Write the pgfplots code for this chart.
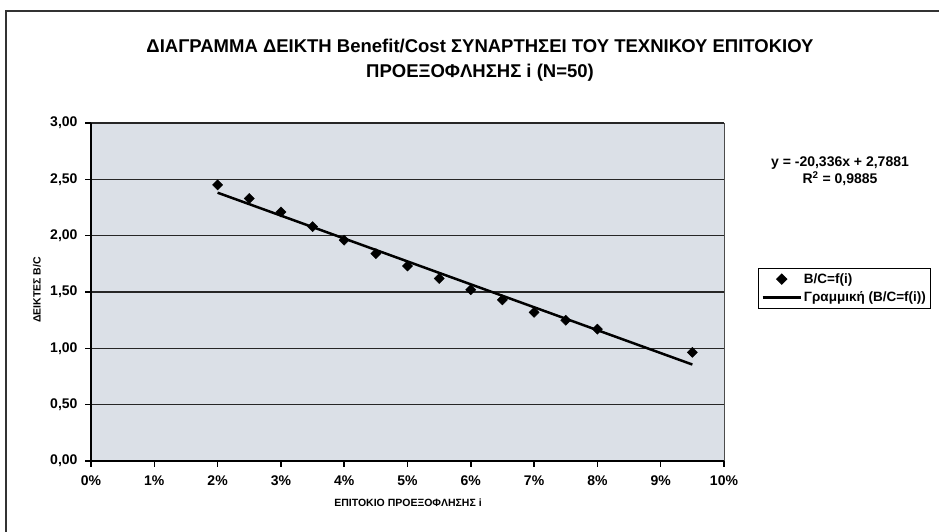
\documentclass[border=0pt]{standalone}
\usepackage{fontspec}
\setmainfont{Liberation Sans}
\usepackage{pgfplots}
\pgfplotsset{compat=1.18}
\definecolor{plotbg}{RGB}{219,224,231}
\begin{document}
\begin{tikzpicture}[x=1pt,y=1pt]
\useasboundingbox (0,0) rectangle (939,532);
\draw[black!80, line width=1.5pt] (6,0) -- (6,521) -- (939,521);
\begin{axis}[
  at={(91pt,71pt)}, anchor=south west,
  width=633pt, height=338pt, scale only axis,
  xmin=0, xmax=0.1, ymin=0, ymax=3,
  axis x line*=bottom, axis y line*=left,
  x axis line style={line width=2.5pt, black},
  y axis line style={line width=2.5pt, black},
  axis background/.style={fill=plotbg, draw=black!70, line width=0.8pt},
  xtick={0,0.01,0.02,0.03,0.04,0.05,0.06,0.07,0.08,0.09,0.1},
  xticklabels={0\%,1\%,2\%,3\%,4\%,5\%,6\%,7\%,8\%,9\%,10\%},
  ytick={0,0.5,1,1.5,2,2.5,3},
  /pgf/number format/fixed,
  /pgf/number format/fixed zerofill,
  /pgf/number format/precision=2,
  /pgf/number format/use comma,
  /pgf/number format/assume math mode=true,
  ticklabel style={font=\bfseries\fontsize{14}{14}\selectfont},
  yticklabel style={xshift=-4pt},
  xticklabel style={yshift=-5pt},
  tick align=outside,
  major tick length=6pt,
  tick style={black, line width=1.5pt},
  ymajorgrids,
  major grid style={black!85, line width=1.2pt},
  legend style={at={(1.0537,0.571)}, anchor=north west, draw=black, line width=1pt, fill=white,
    font=\bfseries\fontsize{13.5}{16}\selectfont, inner xsep=3pt, inner ysep=3pt, row sep=3pt},
  legend cell align=left,
  legend image code/.code={\draw[mark repeat=2,mark phase=2,#1] plot coordinates {(0pt,0pt)(19pt,0pt)(38pt,0pt)};},
  clip=false,
]
\addplot[only marks, mark=square*, mark options={rotate=45}, mark size=3.6pt, black] coordinates {
(0.020,2.45) (0.025,2.33) (0.030,2.21) (0.035,2.08) (0.040,1.96) (0.045,1.84)
(0.050,1.73) (0.055,1.62) (0.060,1.52) (0.065,1.43) (0.070,1.32) (0.075,1.25)
(0.080,1.17) (0.095,0.965)};
\addlegendentry{B/C=f(i)}
\addplot[black, line width=2.5pt, no marks] coordinates {(0.02,2.3814) (0.095,0.8562)};
\addlegendentry{Γραμμική (B/C=f(i))}
\end{axis}
\node[font=\bfseries\fontsize{18.5}{25}\selectfont, align=center] at (480,472)
  {ΔΙΑΓΡΑΜΜΑ ΔΕΙΚΤΗ Benefit/Cost ΣΥΝΑΡΤΗΣΕΙ ΤΟΥ ΤΕΧΝΙΚΟΥ ΕΠΙΤΟΚΙΟΥ\\ΠΡΟΕΞΟΦΛΗΣΗΣ i (N=50)};
\node[font=\bfseries\fontsize{14}{17}\selectfont, align=center] at (840,361)
  {y = -20,336x + 2,7881\\R\textsuperscript{2} = 0,9885};
\node[font=\bfseries\fontsize{10.5}{11}\selectfont] at (408,29) {ΕΠΙΤΟΚΙΟ ΠΡΟΕΞΟΦΛΗΣΗΣ i};
\node[font=\bfseries\fontsize{10.5}{11}\selectfont, rotate=90] at (37,242) {ΔΕΙΚΤΕΣ B/C};
\end{tikzpicture}
\end{document}
